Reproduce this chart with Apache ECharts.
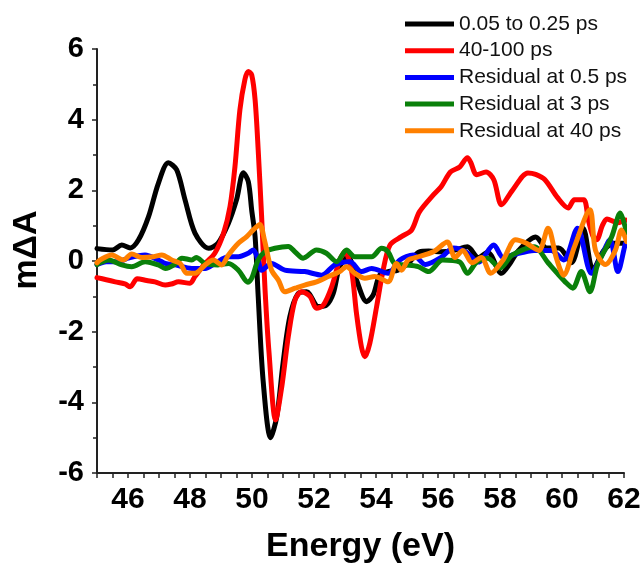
<!DOCTYPE html>
<html>
<head>
<meta charset="utf-8">
<script src="https://cdn.jsdelivr.net/npm/echarts@6/dist/echarts.min.js"></script>
<style>
html,body{margin:0;padding:0;background:#fff;}
#chart{width:643px;height:564px;}
</style>
</head>
<body>
<div id="chart"></div>
<script>
// ---- data ----
const seriesNames = ['0.05 to 0.25 ps', '40-100 ps', 'Residual at 0.5 ps', 'Residual at 3 ps', 'Residual at 40 ps'];
const seriesColors = ['#000000', '#ff0000', '#0000ff', '#0a800a', '#ff8000'];

const blackE = [45.0,45.5,45.8,46.07,46.34,46.66,46.98,47.3,47.57,47.84,48.16,48.6,48.9,49.24,49.5,49.72,49.88,49.99,50.1,50.2,50.36,50.6,50.8,51.0,51.22,51.49,51.76,52.14,52.4,52.62,52.83,53.1,53.37,53.7,53.91,54.12,54.39,54.71,55.04,55.4,55.7,56.1,56.5,56.95,57.3,57.6,58.05,58.3,58.6,59.15,59.5,59.9,60.3,60.68,61.0,61.35,61.7,62.05,62.1];
const blackV = [0.35,0.31,0.45,0.37,0.6,1.25,2.2,2.78,2.58,1.73,0.79,0.36,0.5,1.07,1.73,2.5,2.25,1.44,0.69,-1.0,-3.4,-5.0,-4.4,-2.9,-1.58,-0.92,-0.87,-1.29,-1.25,-0.92,-0.16,0.12,-0.54,-1.15,-0.96,-0.4,-0.3,-0.26,-0.07,0.26,0.28,0.26,0.3,0.4,0.1,0.25,-0.35,-0.1,0.3,0.68,0.37,0.37,-0.05,0.93,-0.25,0.3,0.5,0.5,0.55];

const redE = [45.0,45.3,45.59,45.9,46.07,46.3,46.6,46.87,47.2,47.4,47.63,48.0,48.16,48.49,48.8,49.08,49.29,49.45,49.61,49.77,49.88,49.99,50.1,50.2,50.31,50.42,50.55,50.76,50.96,51.17,51.39,51.6,51.87,52.08,52.3,52.57,52.83,53.0,53.21,53.37,53.53,53.64,53.8,54.02,54.23,54.45,54.82,55.15,55.4,55.85,56.1,56.4,56.7,56.95,57.05,57.25,57.55,57.8,58.05,58.4,58.9,59.15,59.45,59.85,60.2,60.4,60.7,60.85,61.0,61.12,61.3,61.45,61.8,62.05,62.12];
const redV = [-0.47,-0.53,-0.59,-0.65,-0.73,-0.5,-0.55,-0.59,-0.68,-0.65,-0.59,-0.63,-0.44,-0.07,0.22,0.78,1.54,2.67,4.28,5.13,5.36,5.27,4.56,3.14,1.26,-0.8,-2.6,-4.5,-3.56,-2.14,-1.1,-0.87,-1.0,-1.34,-1.25,-0.73,0.03,0.26,-0.26,-1.48,-2.43,-2.71,-2.33,-1.29,-0.26,0.45,0.69,0.88,1.39,1.87,2.1,2.52,2.66,2.92,2.8,2.44,2.52,2.3,1.59,2.0,2.49,2.45,2.3,1.8,1.5,1.73,1.73,1.16,0.7,0.6,1.0,1.19,1.08,1.16,1.15];

const blueE = [45.0,45.3,45.7,46.0,46.55,46.98,47.2,47.52,48.06,48.49,48.8,49.24,49.56,49.88,50.04,50.2,50.31,50.63,51.06,51.7,52.25,52.67,53.16,53.53,53.86,54.39,54.77,55.2,55.6,56.1,56.5,56.9,57.3,57.8,58.1,58.4,59.1,59.65,60.05,60.5,60.95,61.25,61.55,61.8,62.05,62.1];
const blueV = [-0.1,-0.02,-0.02,0.08,0.17,0.03,-0.07,-0.11,-0.21,-0.21,-0.07,0.12,0.12,0.22,0.31,0.03,-0.26,-0.07,-0.26,-0.3,-0.4,-0.11,-0.02,-0.3,-0.21,-0.35,0.03,0.17,-0.1,0.1,0.37,0.26,-0.03,0.45,0.1,0.17,0.3,0.3,0.03,0.93,-0.35,0.1,0.6,-0.3,0.5,0.55];

const greenE = [45.0,45.1,45.37,45.8,46.12,46.55,46.98,47.2,47.5,47.74,48.06,48.2,48.49,48.9,49.24,49.56,49.87,49.99,50.2,50.42,50.74,51.17,51.4,51.65,52.08,52.4,52.73,53.05,53.32,53.86,54.18,54.39,54.6,54.93,55.36,55.7,56.15,56.7,56.95,57.25,57.6,58.0,58.4,59.1,59.55,59.85,60.15,60.35,60.62,60.9,61.15,61.6,61.88,62.08];
const greenV = [-0.1,-0.05,0.03,-0.11,-0.16,-0.02,-0.11,-0.21,-0.1,0.08,0.03,0.1,-0.07,-0.11,-0.07,-0.26,-0.6,-0.49,0.03,0.26,0.36,0.41,0.25,0.08,0.31,0.22,-0.02,0.31,0.12,0.12,0.36,0.26,-0.07,-0.11,-0.16,-0.3,0.03,-0.03,-0.35,-0.03,0.08,-0.2,0.17,0.4,-0.05,-0.35,-0.63,-0.77,-0.3,-0.87,-0.1,0.68,1.36,0.8];

const orangeE = [45.0,45.1,45.48,45.85,46.12,46.45,46.82,47.09,47.41,47.68,47.9,48.16,48.49,48.75,49.02,49.24,49.56,49.83,50.04,50.25,50.4,50.63,50.85,51.06,51.39,51.7,52.08,52.46,52.83,53.05,53.32,53.64,53.96,54.39,54.66,54.82,55.04,55.3,55.85,56.3,56.55,56.8,57.1,57.4,57.7,58.1,58.5,58.85,59.25,59.55,59.82,60.05,60.4,60.9,61.08,61.4,61.72,61.92,62.08];
const orangeV = [-0.05,0.03,0.17,0.03,0.2,0.1,0.12,0.17,0.03,-0.07,-0.35,-0.35,-0.11,0.03,-0.11,0.17,0.5,0.69,0.88,1.03,0.6,-0.26,-0.54,-0.87,-0.77,-0.68,-0.59,-0.44,-0.3,-0.16,-0.35,-0.49,-0.44,-0.59,-0.07,-0.26,0.03,0.1,0.26,0.54,0.1,0.3,-0.05,0.1,-0.35,0.03,0.6,0.5,0.3,0.93,0.08,-0.4,0.4,1.45,0.3,-0.1,0.3,0.88,0.55];

const xTicks = [46,48,50,52,54,56,58,60,62];
const yTicks = [-6,-4,-2,0,2,4,6];

const allE = [blackE, redE, blueE, greenE, orangeE];
const allV = [blackV, redV, blueV, greenV, orangeV];

// ---- chart ----
const chart = echarts.init(document.getElementById('chart'), null, {renderer: 'canvas'});
const FONT = '"Liberation Sans", Arial, sans-serif';

const series = seriesNames.map((name, i) => ({
  name: name,
  type: 'line',
  data: allE[i].map((e, k) => [e, allV[i][k]]),
  showSymbol: false,
  smooth: 0.3,
  clip: false,
  lineStyle: {color: seriesColors[i], width: 5, cap: 'round', join: 'round'},
  itemStyle: {color: seriesColors[i]},
  animation: false,
  z: 2 + i
}));

chart.setOption({
  animation: false,
  backgroundColor: '#ffffff',
  grid: {left: 97, right: 19, top: 49, bottom: 91, containLabel: false, outerBoundsMode: 'none'},
  legend: {
    orient: 'vertical',
    left: 400,
    top: 8,
    icon: 'rect',
    itemWidth: 49,
    itemHeight: 5,
    itemGap: 4.7,
    selectedMode: false,
    textStyle: {fontFamily: FONT, fontSize: 21, color: '#111', lineHeight: 22},
    data: seriesNames
  },
  xAxis: {
    type: 'value',
    min: 45,
    max: 62,
    interval: 1,
    name: 'Energy (eV)',
    nameLocation: 'middle',
    nameGap: 57,
    nameTextStyle: {fontFamily: FONT, fontSize: 34, fontWeight: 'bold', color: '#000'},
    axisLine: {show: true, onZero: false, lineStyle: {color: '#222', width: 2}},
    axisTick: {show: true, inside: false, length: 5, lineStyle: {color: '#222', width: 1.5}},
    minorTick: {show: true, splitNumber: 2, length: 5, lineStyle: {color: '#222', width: 1.5}},
    axisLabel: {
      margin: 12,
      fontFamily: FONT, fontSize: 30, fontWeight: 'bold', color: '#000',
      formatter: v => (xTicks.indexOf(v) >= 0 ? String(v) : '')
    },
    splitLine: {show: false}
  },
  yAxis: {
    type: 'value',
    min: -6,
    max: 6,
    interval: 2,
    axisLine: {show: true, onZero: false, lineStyle: {color: '#222', width: 2}},
    axisTick: {show: true, inside: false, length: 5, lineStyle: {color: '#222', width: 1.5}},
    minorTick: {show: true, splitNumber: 2, length: 4, lineStyle: {color: '#222', width: 1.5}},
    axisLabel: {
      margin: 13,
      fontFamily: FONT, fontSize: 29, fontWeight: 'bold', color: '#000',
      formatter: v => (yTicks.indexOf(v) >= 0 ? String(v) : '')
    },
    splitLine: {show: false}
  },
  graphic: [{
    type: 'text',
    x: 27,
    y: 250,
    rotation: Math.PI / 2,
    style: {
      text: 'mΔA',
      fontFamily: FONT,
      fontSize: 34,
      fontWeight: 'bold',
      fill: '#000',
      textAlign: 'center',
      textVerticalAlign: 'middle'
    }
  }],
  series: series
});
</script>
</body>
</html>
